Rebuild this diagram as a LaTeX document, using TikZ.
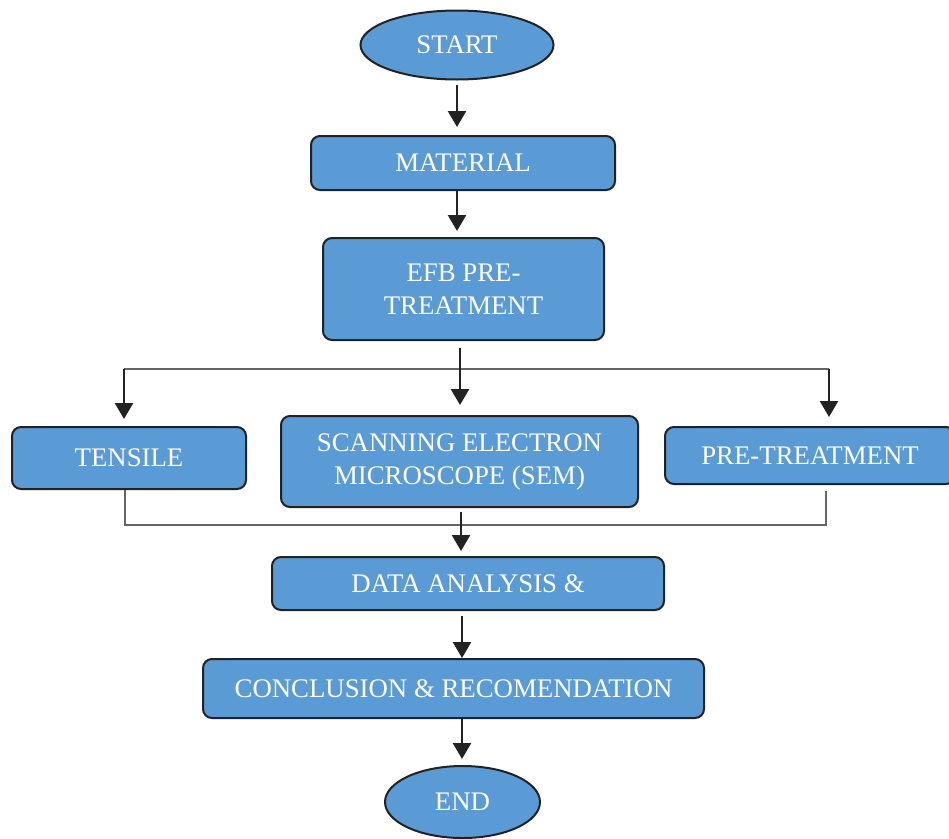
\documentclass[tikz,border=0pt]{standalone}
\usepackage{fontspec}
\setmainfont{Liberation Serif}
\usetikzlibrary{shapes.geometric,arrows.meta}
\definecolor{boxblue}{HTML}{5B9BD5}
\definecolor{edge}{HTML}{222222}
\tikzset{
  x=1pt,y=1pt,
  base/.style={fill=boxblue,draw=edge,line width=2pt,text=white,
    font=\fontsize{26.8}{33}\selectfont,align=center,inner sep=0pt},
  proc/.style={base,rectangle,rounded corners=9pt},
  term/.style={base,ellipse},
  arr/.style={line width=2.5pt,draw=edge,-{Triangle[width=18pt,length=16pt]}},
  thin/.style={line width=1.2pt,draw=black!60}
}
\begin{document}
\begin{tikzpicture}
\useasboundingbox (0,0) rectangle (949,-838);
\node[term,minimum width=193,minimum height=69] (start) at (457,-45) {START};
\node[proc,minimum width=304,minimum height=54] (mat) at (463,-163) {MATERIAL};
\node[proc,minimum width=281,minimum height=102] (efb) at (463.5,-289) {EFB PRE-\\TREATMENT};
\node[proc,minimum width=234,minimum height=62] (ten) at (129,-458) {TENSILE};
\node[proc,minimum width=357,minimum height=91] (sem) at (459.5,-461.5) {SCANNING ELECTRON\\MICROSCOPE (SEM)};
\node[proc,minimum width=290,minimum height=57] (pre) at (810,-455.5) {PRE-TREATMENT};
\node[proc,minimum width=392,minimum height=53] (data) at (468,-583.5) {DATA ANALYSIS \&};
\node[proc,minimum width=501,minimum height=59] (conc) at (453.5,-688.5) {CONCLUSION \& RECOMENDATION};
\node[term,minimum width=155,minimum height=72] (end) at (462.5,-802) {END};

\coordinate (s1) at (457,-85);
\coordinate (m1) at (457,-190);
\coordinate (e1) at (460,-348);
\coordinate (bl) at (124,-369);
\coordinate (bc) at (460,-369);
\coordinate (br) at (829,-369);
\coordinate (t1) at (125,-489);
\coordinate (jl) at (125,-525);
\coordinate (jr) at (826,-525);
\coordinate (p1) at (826,-491);
\coordinate (jc) at (461,-512);
\coordinate (d1) at (462,-616);
\coordinate (c1) at (462,-718);

\draw[arr] (s1) -- ([yshift=8pt]s1 |- mat.north);
\draw[arr] (m1) -- ([yshift=6pt]m1 |- efb.north);
\draw[thin] (bl) -- (br);
\draw[arr] (e1) -- ([yshift=10pt]bc |- sem.north);
\draw[arr] (bl) -- ([yshift=7pt]bl |- ten.north);
\draw[arr] (br) -- ([yshift=9pt]br |- pre.north);
\draw[thin] (ten.south -| t1) -- (jl) -- (jr) -- (p1);
\draw[arr] (jc) -- ([yshift=5pt]jc |- data.north);
\draw[arr] (d1) -- (d1 |- conc.north);
\draw[arr] (c1) -- ([yshift=6pt]c1 |- end.north);
\end{tikzpicture}
\end{document}
